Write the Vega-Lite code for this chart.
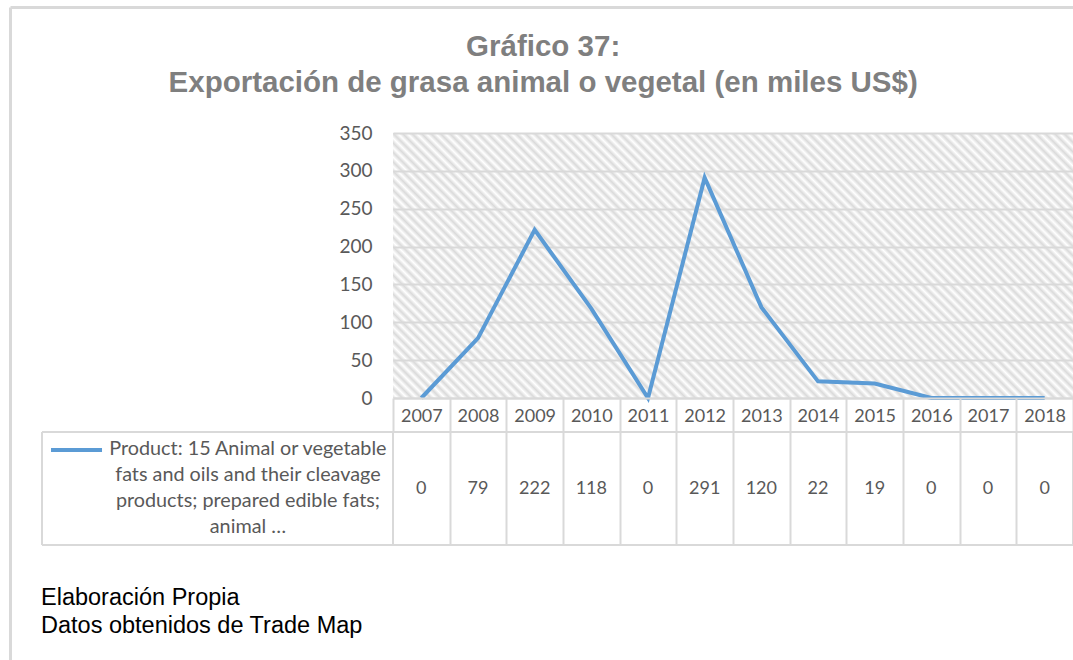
{
  "$schema": "https://vega.github.io/schema/vega-lite/v6.json",
  "padding": {"left": 9, "top": 6, "right": 0, "bottom": 0},
  "background": "white",
  "datasets": {
    "exports": [
      {"year": 2007, "value": 0},
      {"year": 2008, "value": 79},
      {"year": 2009, "value": 222},
      {"year": 2010, "value": 118},
      {"year": 2011, "value": 0},
      {"year": 2012, "value": 291},
      {"year": 2013, "value": 120},
      {"year": 2014, "value": 22},
      {"year": 2015, "value": 19},
      {"year": 2016, "value": 0},
      {"year": 2017, "value": 0},
      {"year": 2018, "value": 0}
    ],
    "series": [
      {"name": "Product: 15 Animal or vegetable\nfats and oils and their cleavage\nproducts; prepared edible fats;\nanimal …"}
    ],
    "frame": [{"part": "frame"}]
  },
  "title": {
    "text": ["Gráfico 37:", "Exportación de grasa animal o vegetal (en miles US$)"],
    "anchor": "middle",
    "frame": "bounds",
    "font": "Liberation Sans",
    "fontSize": 29.5,
    "fontWeight": "bold",
    "color": "#7f7f7f",
    "lineHeight": 36,
    "offset": -92,
    "dx": -12
  },
  "spacing": 34,
  "bounds": "flush",
  "config": {"view": {"stroke": null}, "font": "Lato"},
  "vconcat": [
    {
      "width": 680,
      "height": 265,
      "view": {
        "stroke": null,
        "fill": {
          "gradient": "linear",
          "x1": 0, "y1": 1, "x2": 1.2065, "y2": 0.5298,
          "stops": [
            {"offset": 0, "color": "#dadada"}, {"offset": 0.005, "color": "#ffffff"},
            {"offset": 0.01, "color": "#dadada"}, {"offset": 0.015, "color": "#ffffff"},
            {"offset": 0.02, "color": "#dadada"}, {"offset": 0.025, "color": "#ffffff"},
            {"offset": 0.03, "color": "#dadada"}, {"offset": 0.035, "color": "#ffffff"},
            {"offset": 0.04, "color": "#dadada"}, {"offset": 0.045, "color": "#ffffff"},
            {"offset": 0.05, "color": "#dadada"}, {"offset": 0.055, "color": "#ffffff"},
            {"offset": 0.06, "color": "#dadada"}, {"offset": 0.065, "color": "#ffffff"},
            {"offset": 0.07, "color": "#dadada"}, {"offset": 0.075, "color": "#ffffff"},
            {"offset": 0.08, "color": "#dadada"}, {"offset": 0.085, "color": "#ffffff"},
            {"offset": 0.09, "color": "#dadada"}, {"offset": 0.095, "color": "#ffffff"},
            {"offset": 0.1, "color": "#dadada"}, {"offset": 0.105, "color": "#ffffff"},
            {"offset": 0.11, "color": "#dadada"}, {"offset": 0.115, "color": "#ffffff"},
            {"offset": 0.12, "color": "#dadada"}, {"offset": 0.125, "color": "#ffffff"},
            {"offset": 0.13, "color": "#dadada"}, {"offset": 0.135, "color": "#ffffff"},
            {"offset": 0.14, "color": "#dadada"}, {"offset": 0.145, "color": "#ffffff"},
            {"offset": 0.15, "color": "#dadada"}, {"offset": 0.155, "color": "#ffffff"},
            {"offset": 0.16, "color": "#dadada"}, {"offset": 0.165, "color": "#ffffff"},
            {"offset": 0.17, "color": "#dadada"}, {"offset": 0.175, "color": "#ffffff"},
            {"offset": 0.18, "color": "#dadada"}, {"offset": 0.185, "color": "#ffffff"},
            {"offset": 0.19, "color": "#dadada"}, {"offset": 0.195, "color": "#ffffff"},
            {"offset": 0.2, "color": "#dadada"}, {"offset": 0.205, "color": "#ffffff"},
            {"offset": 0.21, "color": "#dadada"}, {"offset": 0.215, "color": "#ffffff"},
            {"offset": 0.22, "color": "#dadada"}, {"offset": 0.225, "color": "#ffffff"},
            {"offset": 0.23, "color": "#dadada"}, {"offset": 0.235, "color": "#ffffff"},
            {"offset": 0.24, "color": "#dadada"}, {"offset": 0.245, "color": "#ffffff"},
            {"offset": 0.25, "color": "#dadada"}, {"offset": 0.255, "color": "#ffffff"},
            {"offset": 0.26, "color": "#dadada"}, {"offset": 0.265, "color": "#ffffff"},
            {"offset": 0.27, "color": "#dadada"}, {"offset": 0.275, "color": "#ffffff"},
            {"offset": 0.28, "color": "#dadada"}, {"offset": 0.285, "color": "#ffffff"},
            {"offset": 0.29, "color": "#dadada"}, {"offset": 0.295, "color": "#ffffff"},
            {"offset": 0.3, "color": "#dadada"}, {"offset": 0.305, "color": "#ffffff"},
            {"offset": 0.31, "color": "#dadada"}, {"offset": 0.315, "color": "#ffffff"},
            {"offset": 0.32, "color": "#dadada"}, {"offset": 0.325, "color": "#ffffff"},
            {"offset": 0.33, "color": "#dadada"}, {"offset": 0.335, "color": "#ffffff"},
            {"offset": 0.34, "color": "#dadada"}, {"offset": 0.345, "color": "#ffffff"},
            {"offset": 0.35, "color": "#dadada"}, {"offset": 0.355, "color": "#ffffff"},
            {"offset": 0.36, "color": "#dadada"}, {"offset": 0.365, "color": "#ffffff"},
            {"offset": 0.37, "color": "#dadada"}, {"offset": 0.375, "color": "#ffffff"},
            {"offset": 0.38, "color": "#dadada"}, {"offset": 0.385, "color": "#ffffff"},
            {"offset": 0.39, "color": "#dadada"}, {"offset": 0.395, "color": "#ffffff"},
            {"offset": 0.4, "color": "#dadada"}, {"offset": 0.405, "color": "#ffffff"},
            {"offset": 0.41, "color": "#dadada"}, {"offset": 0.415, "color": "#ffffff"},
            {"offset": 0.42, "color": "#dadada"}, {"offset": 0.425, "color": "#ffffff"},
            {"offset": 0.43, "color": "#dadada"}, {"offset": 0.435, "color": "#ffffff"},
            {"offset": 0.44, "color": "#dadada"}, {"offset": 0.445, "color": "#ffffff"},
            {"offset": 0.45, "color": "#dadada"}, {"offset": 0.455, "color": "#ffffff"},
            {"offset": 0.46, "color": "#dadada"}, {"offset": 0.465, "color": "#ffffff"},
            {"offset": 0.47, "color": "#dadada"}, {"offset": 0.475, "color": "#ffffff"},
            {"offset": 0.48, "color": "#dadada"}, {"offset": 0.485, "color": "#ffffff"},
            {"offset": 0.49, "color": "#dadada"}, {"offset": 0.495, "color": "#ffffff"},
            {"offset": 0.5, "color": "#dadada"}, {"offset": 0.505, "color": "#ffffff"},
            {"offset": 0.51, "color": "#dadada"}, {"offset": 0.515, "color": "#ffffff"},
            {"offset": 0.52, "color": "#dadada"}, {"offset": 0.525, "color": "#ffffff"},
            {"offset": 0.53, "color": "#dadada"}, {"offset": 0.535, "color": "#ffffff"},
            {"offset": 0.54, "color": "#dadada"}, {"offset": 0.545, "color": "#ffffff"},
            {"offset": 0.55, "color": "#dadada"}, {"offset": 0.555, "color": "#ffffff"},
            {"offset": 0.56, "color": "#dadada"}, {"offset": 0.565, "color": "#ffffff"},
            {"offset": 0.57, "color": "#dadada"}, {"offset": 0.575, "color": "#ffffff"},
            {"offset": 0.58, "color": "#dadada"}, {"offset": 0.585, "color": "#ffffff"},
            {"offset": 0.59, "color": "#dadada"}, {"offset": 0.595, "color": "#ffffff"},
            {"offset": 0.6, "color": "#dadada"}, {"offset": 0.605, "color": "#ffffff"},
            {"offset": 0.61, "color": "#dadada"}, {"offset": 0.615, "color": "#ffffff"},
            {"offset": 0.62, "color": "#dadada"}, {"offset": 0.625, "color": "#ffffff"},
            {"offset": 0.63, "color": "#dadada"}, {"offset": 0.635, "color": "#ffffff"},
            {"offset": 0.64, "color": "#dadada"}, {"offset": 0.645, "color": "#ffffff"},
            {"offset": 0.65, "color": "#dadada"}, {"offset": 0.655, "color": "#ffffff"},
            {"offset": 0.66, "color": "#dadada"}, {"offset": 0.665, "color": "#ffffff"},
            {"offset": 0.67, "color": "#dadada"}, {"offset": 0.675, "color": "#ffffff"},
            {"offset": 0.68, "color": "#dadada"}, {"offset": 0.685, "color": "#ffffff"},
            {"offset": 0.69, "color": "#dadada"}, {"offset": 0.695, "color": "#ffffff"},
            {"offset": 0.7, "color": "#dadada"}, {"offset": 0.705, "color": "#ffffff"},
            {"offset": 0.71, "color": "#dadada"}, {"offset": 0.715, "color": "#ffffff"},
            {"offset": 0.72, "color": "#dadada"}, {"offset": 0.725, "color": "#ffffff"},
            {"offset": 0.73, "color": "#dadada"}, {"offset": 0.735, "color": "#ffffff"},
            {"offset": 0.74, "color": "#dadada"}, {"offset": 0.745, "color": "#ffffff"},
            {"offset": 0.75, "color": "#dadada"}, {"offset": 0.755, "color": "#ffffff"},
            {"offset": 0.76, "color": "#dadada"}, {"offset": 0.765, "color": "#ffffff"},
            {"offset": 0.77, "color": "#dadada"}, {"offset": 0.775, "color": "#ffffff"},
            {"offset": 0.78, "color": "#dadada"}, {"offset": 0.785, "color": "#ffffff"},
            {"offset": 0.79, "color": "#dadada"}, {"offset": 0.795, "color": "#ffffff"},
            {"offset": 0.8, "color": "#dadada"}, {"offset": 0.805, "color": "#ffffff"},
            {"offset": 0.81, "color": "#dadada"}, {"offset": 0.815, "color": "#ffffff"},
            {"offset": 0.82, "color": "#dadada"}, {"offset": 0.825, "color": "#ffffff"},
            {"offset": 0.83, "color": "#dadada"}, {"offset": 0.835, "color": "#ffffff"},
            {"offset": 0.84, "color": "#dadada"}, {"offset": 0.845, "color": "#ffffff"},
            {"offset": 0.85, "color": "#dadada"}, {"offset": 0.855, "color": "#ffffff"},
            {"offset": 0.86, "color": "#dadada"}, {"offset": 0.865, "color": "#ffffff"},
            {"offset": 0.87, "color": "#dadada"}, {"offset": 0.875, "color": "#ffffff"},
            {"offset": 0.88, "color": "#dadada"}, {"offset": 0.885, "color": "#ffffff"},
            {"offset": 0.89, "color": "#dadada"}, {"offset": 0.895, "color": "#ffffff"},
            {"offset": 0.9, "color": "#dadada"}, {"offset": 0.905, "color": "#ffffff"},
            {"offset": 0.91, "color": "#dadada"}, {"offset": 0.915, "color": "#ffffff"},
            {"offset": 0.92, "color": "#dadada"}, {"offset": 0.925, "color": "#ffffff"},
            {"offset": 0.93, "color": "#dadada"}, {"offset": 0.935, "color": "#ffffff"},
            {"offset": 0.94, "color": "#dadada"}, {"offset": 0.945, "color": "#ffffff"},
            {"offset": 0.95, "color": "#dadada"}, {"offset": 0.955, "color": "#ffffff"},
            {"offset": 0.96, "color": "#dadada"}, {"offset": 0.965, "color": "#ffffff"},
            {"offset": 0.97, "color": "#dadada"}, {"offset": 0.975, "color": "#ffffff"},
            {"offset": 0.98, "color": "#dadada"}, {"offset": 0.985, "color": "#ffffff"},
            {"offset": 0.99, "color": "#dadada"}, {"offset": 0.995, "color": "#ffffff"},
            {"offset": 1, "color": "#dadada"}
          ]
        }
      },
      "resolve": {
        "scale": {"x": "independent", "y": "independent"},
        "axis": {"x": "independent", "y": "independent"}
      },
      "layer": [
        {
          "data": {"name": "exports"},
          "mark": {"type": "line", "color": "#5b9bd5", "strokeWidth": 4},
          "encoding": {
            "x": {
              "field": "year",
              "type": "quantitative",
              "scale": {"domain": [2006.5, 2018.5], "nice": false, "zero": false},
              "axis": {
                "values": [2006.5, 2007.5, 2008.5, 2009.5, 2010.5, 2011.5, 2012.5, 2013.5, 2014.5, 2015.5, 2016.5, 2017.5, 2018.5],
                "labelExpr": "datum.value < 2018 ? format(datum.value + 0.5, 'd') : ''",
                "labelOffset": 28.33,
                "labelOverlap": false,
                "labelFlush": false,
                "labelBound": false,
                "tickSize": 34,
                "tickWidth": 2,
                "tickColor": "#d9d9d9",
                "domainColor": "#d9d9d9",
                "domainWidth": 2,
                "labelFont": "Lato",
                "labelFontSize": 18,
                "labelColor": "#595959",
                "labelPadding": -25,
                "title": null,
                "grid": false,
                "zindex": 1
              }
            },
            "y": {
              "field": "value",
              "type": "quantitative",
              "scale": {"domain": [0, 350], "nice": false},
              "axis": {
                "values": [0, 50, 100, 150, 200, 250, 300, 350],
                "labelOverlap": false,
                "grid": true,
                "gridColor": "#d9d9d9",
                "gridWidth": 2,
                "domain": false,
                "ticks": false,
                "labelPadding": 21,
                "labelFont": "Lato",
                "labelFontSize": 19,
                "labelColor": "#595959",
                "title": null
              }
            }
          }
        },
        {
          "data": {"name": "frame"},
          "mark": {"type": "rule", "color": "#d9d9d9", "strokeWidth": 3},
          "encoding": {
            "x": {"datum": 1999.75, "scale": {"domain": [2006.5, 2018.5], "nice": false, "zero": false}, "axis": null},
            "x2": {"datum": 2018.544},
            "y": {"datum": 515.75, "scale": {"domain": [0, 350], "nice": false, "zero": false}, "axis": null}
          }
        },
        {
          "data": {"name": "frame"},
          "mark": {"type": "rule", "color": "#d9d9d9", "strokeWidth": 3},
          "encoding": {
            "x": {"datum": 1999.75, "scale": {"domain": [2006.5, 2018.5], "nice": false, "zero": false}, "axis": null},
            "y": {"datum": 515.75, "scale": {"domain": [0, 350], "nice": false, "zero": false}, "axis": null},
            "y2": {"datum": -400}
          }
        }
      ]
    },
    {
      "width": 680,
      "height": 113,
      "view": {"stroke": "#d9d9d9", "strokeWidth": 2},
      "title": {
        "text": ["Elaboración Propia", "Datos obtenidos de Trade Map"],
        "orient": "bottom",
        "anchor": "start",
        "frame": "bounds",
        "font": "Liberation Sans",
        "fontSize": 23.5,
        "fontWeight": "normal",
        "color": "#000000",
        "lineHeight": 28,
        "offset": 40
      },
      "layer": [
        {
          "data": {"name": "exports"},
          "mark": {"type": "text", "font": "Lato", "fontSize": 18, "color": "#595959"},
          "encoding": {
            "x": {
              "field": "year",
              "type": "quantitative",
              "scale": {"domain": [2006.5, 2018.5], "nice": false, "zero": false},
              "axis": {
                "values": [2007.5, 2008.5, 2009.5, 2010.5, 2011.5, 2012.5, 2013.5, 2014.5, 2015.5, 2016.5, 2017.5],
                "grid": true,
                "gridColor": "#d9d9d9",
                "gridWidth": 2,
                "labels": false,
                "ticks": false,
                "domain": false,
                "title": null
              }
            },
            "text": {"field": "value", "type": "quantitative"}
          }
        },
        {
          "data": {"name": "series"},
          "mark": {"type": "text", "lineBreak": "\n", "align": "center", "baseline": "middle", "font": "Lato", "fontSize": 19.8, "lineHeight": 26, "color": "#595959"},
          "encoding": {
            "x": {"datum": 2003.94},
            "y": {"datum": 15, "scale": {"domain": [0, 100], "reverse": true}, "axis": null},
            "text": {"field": "name", "type": "nominal"}
          }
        },
        {
          "data": {"name": "series"},
          "mark": {"type": "rule", "color": "#5b9bd5", "strokeWidth": 4},
          "encoding": {
            "x": {"datum": 2000.465},
            "x2": {"datum": 2001.365},
            "y": {"datum": 16}
          }
        },
        {
          "data": {"name": "frame"},
          "mark": {"type": "rule", "color": "#d9d9d9", "strokeWidth": 2},
          "encoding": {
            "x": {"datum": 2000.306},
            "x2": {"datum": 2006.5},
            "y": {"datum": 0}
          }
        },
        {
          "data": {"name": "frame"},
          "mark": {"type": "rule", "color": "#d9d9d9", "strokeWidth": 2},
          "encoding": {
            "x": {"datum": 2000.306},
            "x2": {"datum": 2006.5},
            "y": {"datum": 100}
          }
        },
        {
          "data": {"name": "frame"},
          "mark": {"type": "rule", "color": "#d9d9d9", "strokeWidth": 2},
          "encoding": {
            "x": {"datum": 2000.306},
            "y": {"datum": 0},
            "y2": {"datum": 100}
          }
        }
      ]
    }
  ]
}
